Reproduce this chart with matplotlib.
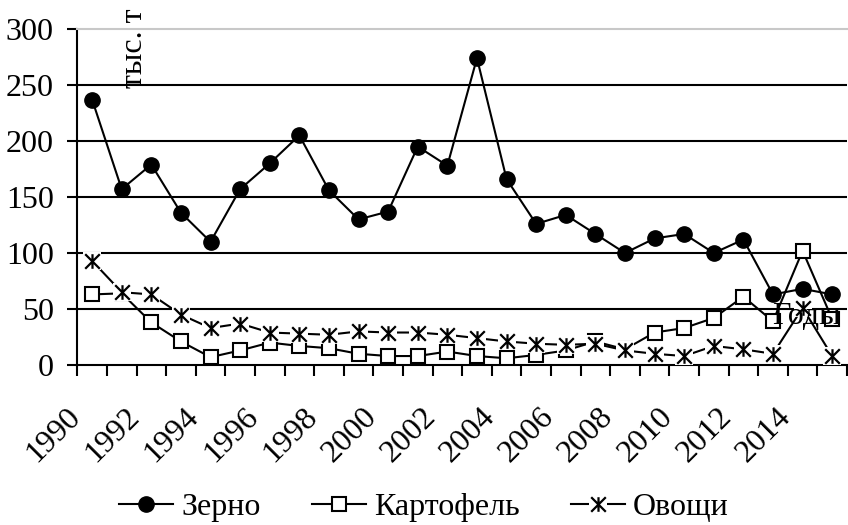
import matplotlib.pyplot as plt
import matplotlib.transforms as mtransforms
from matplotlib.path import Path
from matplotlib.legend_handler import HandlerTuple
import numpy as np

plt.rcParams['font.family'] = ['Liberation Serif', 'DejaVu Serif']

years = list(range(1990, 2016))
grain = [237, 157, 179, 136, 110, 157, 180, 205, 156, 130, 137, 195, 178,
         274, 166, 126, 134, 117, 100, 113, 117, 100, 112, 63, 68, 63]
potato = [63, 64, 38, 21, 7, 13, 20, 17, 15, 10, 8, 8, 12,
          8, 6, 9, 13, 21, 14, 29, 33, 42, 61, 39, 102, 41]
veg = [93, 65, 63, 45, 33, 37, 29, 28, 27, 30, 29, 29, 27,
       24, 21, 19, 18, 19, 13, 10, 8, 17, 14, 10, 51, 8]
names = ['Зерно', 'Картофель', 'Овощи']
yticks = [0, 50, 100, 150, 200, 250, 300]

# asterisk marker: vertical bar plus an X
star = Path([(0, -1), (0, 1), (-1, -1), (1, 1), (-1, 1), (1, -1)],
            [Path.MOVETO, Path.LINETO] * 3)

fs = 23
fig = plt.figure(figsize=(8.48, 5.25), dpi=100)
ax = fig.add_axes([77.3 / 848, 1 - 365 / 525, (847 - 77.3) / 848, (365 - 29) / 525])

x = np.arange(len(years))
lw = 1.5

for y in yticks[1:-1]:
    ax.axhline(y, color='black', lw=lw, zorder=1)

l1, = ax.plot(x, grain, color='black', lw=lw, marker='o', ms=11,
              mfc='black', mec='black', zorder=3)
l2, = ax.plot(x, potato, color='black', lw=lw, marker='s', ms=10,
              mfc='white', mec='black', mew=1.5, zorder=4)
l3a, = ax.plot(x, veg, color='black', lw=lw, marker='s', ms=12.5,
               mfc='white', mec='white', mew=0, zorder=5)
l3b, = ax.plot(x, veg, ls='none', marker=star, ms=10.5, mec='black',
               mew=1.6, zorder=6)

ax.set_xlim(-0.5, len(years) - 0.5)
ax.set_ylim(0, 300)
ax.set_yticks(yticks)
ax.set_yticklabels([str(v) for v in yticks], fontsize=fs)
ax.tick_params(axis='y', length=7, width=lw, pad=10)

ax.set_xticks(x[::2])
ax.set_xticklabels([str(v) for v in years[::2]], fontsize=fs, rotation=45,
                   ha='right', va='center', rotation_mode='anchor')
ax.set_xticks(np.arange(-0.5, len(years)), minor=True)
ax.tick_params(axis='x', which='major', length=0, pad=34)
ax.tick_params(axis='x', which='minor', length=8, width=lw)
shift = mtransforms.ScaledTranslation(-0.16, 0, fig.dpi_scale_trans)
for lab in ax.get_xticklabels():
    lab.set_transform(lab.get_transform() + shift)

ax.spines['right'].set_visible(False)
ax.spines['top'].set_color('#c8c8c8')
ax.spines['top'].set_linewidth(1.5)
ax.spines['left'].set_linewidth(lw)
ax.spines['bottom'].set_linewidth(lw)

fig.text(135 / 848, 1 - 88 / 525, 'тыс. т', rotation=90, fontsize=fs,
         ha='center', va='bottom')
fig.text(772 / 848, 1 - 317 / 525, 'Годы', fontsize=fs, ha='left',
         va='center', zorder=10)

fig.legend([l1, l2, (l3a, l3b)], names, loc='center',
           bbox_to_anchor=(0.5, 1 - 507 / 525), ncol=3, frameon=False,
           fontsize=fs, handlelength=1.7, handletextpad=0.25,
           columnspacing=1.6, handler_map={tuple: HandlerTuple(ndivide=1)})

fig.savefig('out.png', dpi=100)
